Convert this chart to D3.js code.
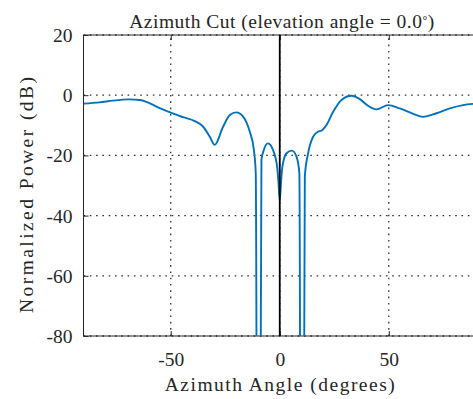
<!DOCTYPE html>
<html>
<head>
<meta charset="utf-8">
<script src="https://cdn.jsdelivr.net/npm/d3@7"></script>
<style>
  html, body { margin: 0; padding: 0; background: #fff; }
  svg { display: block; }
  text { font-family: "Liberation Serif", "Times New Roman", serif; fill: #262626; }
</style>
</head>
<body>
<svg id="chart" width="473" height="399"></svg>
<script>
// Azimuth cut of the array response, normalized power in dB
const azimuthDeg = [-90, -82.6, -76.5, -68.8, -64.2, -59.6, -55, -49.7, -44.3, -39,
  -35.2, -32.1, -29.8, -26, -22.9, -19.9, -16.8, -13.8, -11.9, -11,
  -9.8, -8.4, -7.3, -5.4, -3.1, -1.2, -0.6, 0, 0.6, 1.2,
  3.1, 5.6, 7.7, 9.0, 10.1, 11.5, 13, 15.3, 17.6, 19.1,
  21.4, 24.5, 28.3, 32.9, 36.7, 40.5, 44.3, 49.7, 55, 61.2,
  65.7, 71.9, 78, 84.1, 90];
const powerDb = [-2.8, -2.4, -1.8, -1.4, -1.6, -2.7, -4.3, -5.9, -7.3, -8.6,
  -10.4, -13.8, -16.5, -10.5, -6.6, -5.7, -7.1, -12, -18, -26,
  -300, -21.5, -18.2, -16.0, -18.2, -23.8, -28.8, -35, -28.8, -23.8,
  -19.3, -18.4, -20.4, -26, -300, -27, -19.3, -13.8, -12.1, -11.8,
  -9.9, -5.5, -1.6, -0.2, -1.3, -3.5, -4.7, -3.3, -4.4, -6.2,
  -7.2, -6.0, -4.4, -3.3, -2.8];

const xTicks = [-50, 0, 50];
const yTicks = [20, 0, -20, -40, -60, -80];
const cutAngle = [0];   // azimuth of the marked cut line

const titleText = "Azimuth Cut (elevation angle = 0.0";
const xLabel = "Azimuth Angle (degrees)";
const yLabel = "Normalized Power (dB)";

const svg = d3.select("#chart");
const plot = { left: 83.5, right: 476, top: 35, bottom: 336 };

const x = d3.scaleLinear().domain([-90, 90]).range([plot.left, plot.right]);
const y = d3.scaleLinear().domain([-80, 20]).range([plot.bottom, plot.top]);

svg.append("defs").append("clipPath").attr("id", "plotClip")
  .append("rect")
  .attr("x", plot.left).attr("y", plot.top)
  .attr("width", plot.right - plot.left).attr("height", plot.bottom - plot.top);

// dotted grid
const grid = svg.append("g")
  .attr("stroke", "#333").attr("stroke-width", 1.3)
  .attr("stroke-dasharray", "1.6 4.7");
grid.selectAll("line.gx").data(xTicks).join("line")
  .attr("x1", d => x(d)).attr("x2", d => x(d))
  .attr("y1", plot.bottom).attr("y2", plot.top);
grid.selectAll("line.gy").data(yTicks).join("line")
  .attr("y1", d => y(d)).attr("y2", d => y(d))
  .attr("x1", plot.left).attr("x2", plot.right);

// axes box: left, top, bottom edges with inward ticks
const frame = svg.append("g").attr("stroke", "#262626").attr("stroke-width", 1).attr("fill", "none");
frame.append("path")
  .attr("d", `M${plot.right},${plot.top}H${plot.left}V${plot.bottom}H${plot.right}`);

const plainNum = d => String(d);   // hyphen-minus, as in the printed labels
const yAxis = d3.axisLeft(y).tickValues(yTicks).tickSize(-5).tickPadding(11).tickFormat(plainNum);
const xAxis = d3.axisBottom(x).tickValues(xTicks).tickSize(-5).tickPadding(16).tickFormat(plainNum);
const xTop = d3.axisTop(x).tickValues(xTicks).tickSize(-5).tickFormat("");

function styleAxis(g) {
  g.select(".domain").remove();
  g.selectAll(".tick line").attr("stroke", "#262626");
  g.selectAll(".tick text")
    .attr("font-family", "Liberation Serif, serif")
    .attr("font-size", 19.5).attr("fill", "#262626");
}
svg.append("g").attr("transform", `translate(${plot.left},0)`).call(yAxis).call(styleAxis)
  .selectAll(".tick text").attr("dy", "0.33em");
svg.append("g").attr("transform", `translate(0,${plot.bottom})`).call(xAxis).call(styleAxis);
svg.append("g").attr("transform", `translate(0,${plot.top})`).call(xTop).call(styleAxis);

// pattern curve
const line = d3.line()
  .x((d, i) => x(azimuthDeg[i]))
  .y(d => y(d))
  .curve(d3.curveMonotoneX);
svg.append("path")
  .datum(powerDb)
  .attr("clip-path", "url(#plotClip)")
  .attr("fill", "none")
  .attr("stroke", "#0072BD")
  .attr("stroke-width", 1.9)
  .attr("stroke-linejoin", "round")
  .attr("d", line);

// cut marker line
svg.selectAll("line.cut").data(cutAngle).join("line")
  .attr("class", "cut")
  .attr("x1", d => x(d)).attr("x2", d => x(d))
  .attr("y1", plot.top).attr("y2", plot.bottom)
  .attr("stroke", "#000").attr("stroke-width", 1.8);

// title and axis labels
const title = svg.append("text")
  .attr("x", (plot.left + plot.right) / 2 + 2).attr("y", 28)
  .attr("text-anchor", "middle").attr("font-size", 19.5)
  .attr("textLength", 305).attr("lengthAdjust", "spacing");
title.append("tspan").text(titleText);
title.append("tspan").attr("dy", -4).attr("font-size", 12).text("\u00B0");
title.append("tspan").attr("dy", 4).text(")");

svg.append("text")
  .attr("x", (plot.left + plot.right) / 2).attr("y", 391)
  .attr("text-anchor", "middle").attr("font-size", 19.5)
  .attr("textLength", 230).attr("lengthAdjust", "spacing")
  .text(xLabel);

svg.append("text")
  .attr("transform", "translate(32.5,195) rotate(-90)")
  .attr("text-anchor", "middle").attr("font-size", 19.5)
  .attr("textLength", 236).attr("lengthAdjust", "spacing")
  .text(yLabel);
</script>
</body>
</html>
